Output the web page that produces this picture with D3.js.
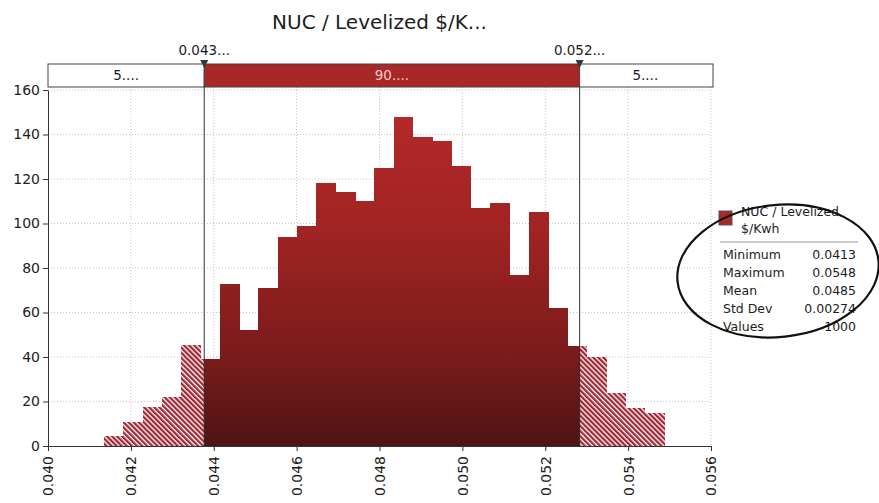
<!DOCTYPE html>
<html>
<head>
<meta charset="utf-8">
<title>NUC / Levelized $/Kwh</title>
<script src="https://d3js.org/d3.v7.min.js"></script>
<style>
  body { margin: 0; background: #fff; }
  text { font-family: "DejaVu Sans", Verdana, sans-serif; fill: #1c1c1c; }
</style>
</head>
<body>
<div id="chart"></div>
<script>
// Histogram: 29 equal bins from the minimum, heights (density)
const binStart = 0.04135;
const binWidth = 0.000466;
const binValues = [4.5, 11, 17.5, 22, 45.5, 39, 73, 52, 71, 94, 99, 118, 114, 110, 125,
                   148, 139, 137, 126, 107, 109, 77, 105, 62, 45, 40, 24, 17, 15];

// Delimiters and the band on top
const delimiters = [0.04377, 0.05283];
const delimiterLabels = ["0.043...", "0.052..."];
const bandLabels = ["5....", "90....", "5...."];

// Axes
const xTicks = [0.040, 0.042, 0.044, 0.046, 0.048, 0.050, 0.052, 0.054, 0.056];
const yTicks = [0, 20, 40, 60, 80, 100, 120, 140, 160];

// Legend / stats
const title = "NUC / Levelized $/K...";
const seriesName = ["NUC / Levelized", "$/Kwh"];
const statNames = ["Minimum", "Maximum", "Mean", "Std Dev", "Values"];
const statValues = ["0.0413", "0.0548", "0.0485", "0.00274", "1000"];

const W = 879, H = 503;
const plot = { left: 48, right: 711, top: 90, bottom: 446 };

const svg = d3.select("#chart")
    .append("svg")
    .attr("width", W)
    .attr("height", H);

const x = d3.scaleLinear()
    .domain([xTicks[0], xTicks[xTicks.length - 1]])
    .range([plot.left, plot.right]);

const y = d3.scaleLinear()
    .domain([0, 160])
    .range([plot.bottom, plot.top]);

// Fills: vertical red gradient and a hatch for the tails
const defs = svg.append("defs");
const grad = defs.append("linearGradient")
    .attr("id", "barGrad")
    .attr("gradientUnits", "userSpaceOnUse")
    .attr("x1", 0).attr("y1", y(160))
    .attr("x2", 0).attr("y2", y(0));
grad.append("stop").attr("offset", "0%").attr("stop-color", "#b82a2a");
grad.append("stop").attr("offset", "40%").attr("stop-color", "#a12323");
grad.append("stop").attr("offset", "75%").attr("stop-color", "#7a1b1b");
grad.append("stop").attr("offset", "100%").attr("stop-color", "#4d1313");

const hatch = defs.append("pattern")
    .attr("id", "hatch")
    .attr("patternUnits", "userSpaceOnUse")
    .attr("width", 3.6).attr("height", 10)
    .attr("patternTransform", "rotate(-45)");
hatch.append("rect").attr("width", 3.6).attr("height", 10).attr("fill", "#fff");
hatch.append("rect").attr("width", 2.3).attr("height", 10).attr("fill", "#a02834");

// Title
svg.append("text")
    .attr("x", (plot.left + plot.right) / 2)
    .attr("y", 29)
    .attr("text-anchor", "middle")
    .attr("font-size", 20)
    .text(title);

// Grid lines (dotted)
const grid = svg.append("g")
    .attr("stroke", "#c4c4c4")
    .attr("stroke-dasharray", "1,2");
grid.selectAll("line.h")
    .data(yTicks.slice(1))
    .enter().append("line")
    .attr("x1", plot.left).attr("x2", plot.right)
    .attr("y1", d => y(d)).attr("y2", d => y(d));
grid.selectAll("line.v")
    .data(xTicks.slice(1))
    .enter().append("line")
    .attr("x1", d => x(d)).attr("x2", d => x(d))
    .attr("y1", 87).attr("y2", plot.bottom);

// Split each bin at the delimiters so the tails get the hatch
const pieces = [];
binValues.forEach((v, i) => {
    const lo = binStart + i * binWidth, hi = lo + binWidth;
    const cuts = [lo, ...delimiters.filter(d => d > lo && d < hi), hi];
    for (let k = 0; k < cuts.length - 1; k++) {
        const mid = (cuts[k] + cuts[k + 1]) / 2;
        const tail = mid < delimiters[0] || mid > delimiters[1];
        pieces.push({ x0: cuts[k], x1: cuts[k + 1], value: v, tail: tail });
    }
});

svg.append("g")
    .attr("shape-rendering", "crispEdges")
    .selectAll("rect")
    .data(pieces)
    .enter().append("rect")
    .attr("x", d => x(d.x0))
    .attr("width", d => x(d.x1) - x(d.x0) + 0.6)
    .attr("y", d => y(d.value))
    .attr("height", d => y(0) - y(d.value))
    .attr("fill", d => d.tail ? "url(#hatch)" : "url(#barGrad)");

// Delimiter lines
svg.append("g")
    .selectAll("line")
    .data(delimiters)
    .enter().append("line")
    .attr("x1", d => x(d)).attr("x2", d => x(d))
    .attr("y1", 64).attr("y2", plot.bottom)
    .attr("stroke", "#333")
    .attr("stroke-width", 1);

// Band across the top
const bandEdges = [x.domain()[0], delimiters[0], delimiters[1], x.domain()[1]];
const band = svg.append("g");
band.selectAll("rect")
    .data(bandLabels)
    .enter().append("rect")
    .attr("x", (d, i) => x(bandEdges[i]))
    .attr("width", (d, i) => x(bandEdges[i + 1]) - x(bandEdges[i]) + (i === 2 ? 2 : 0))
    .attr("y", 64)
    .attr("height", 23)
    .attr("fill", (d, i) => i === 1 ? "#a82828" : "#fff")
    .attr("stroke", "#444")
    .attr("stroke-width", 1);
band.selectAll("text")
    .data(bandLabels)
    .enter().append("text")
    .attr("x", (d, i) => (x(bandEdges[i]) + x(bandEdges[i + 1])) / 2)
    .attr("y", 80)
    .attr("text-anchor", "middle")
    .attr("font-size", 13.5)
    .style("fill", (d, i) => i === 1 ? "#f2caca" : "#1c1c1c")
    .text(d => d);

// Delimiter markers and labels
svg.append("g")
    .selectAll("path")
    .data(delimiters)
    .enter().append("path")
    .attr("d", d => `M${x(d) - 4},60 L${x(d) + 4},60 L${x(d)},68 Z`)
    .attr("fill", "#2e3846");
svg.append("g")
    .selectAll("text")
    .data(delimiters)
    .enter().append("text")
    .attr("x", d => x(d))
    .attr("y", 55)
    .attr("text-anchor", "middle")
    .attr("font-size", 13.5)
    .text((d, i) => delimiterLabels[i]);

// Y axis
const yAxis = svg.append("g")
    .attr("transform", `translate(${plot.left},0)`)
    .call(d3.axisLeft(y).tickValues(yTicks).tickSize(5).tickSizeOuter(0).tickPadding(3));
yAxis.selectAll("text").attr("font-size", 14).style("font-family", "DejaVu Sans").style("fill", "#1c1c1c");
yAxis.selectAll("line, path").attr("stroke", "#333");

// X axis with rotated labels
const xAxis = svg.append("g")
    .attr("transform", `translate(0,${plot.bottom})`)
    .call(d3.axisBottom(x).tickValues(xTicks).tickSize(5).tickSizeOuter(0).tickFormat(d3.format(".3f")));
xAxis.selectAll("text")
    .attr("transform", "rotate(-90)")
    .attr("text-anchor", "end")
    .attr("x", -10)
    .attr("y", 0)
    .attr("dy", "0.35em")
    .attr("font-size", 14)
    .style("font-family", "DejaVu Sans")
    .style("fill", "#1c1c1c");
xAxis.selectAll("line, path").attr("stroke", "#333");

// Legend with statistics
const legend = svg.append("g");
legend.append("rect")
    .attr("x", 719).attr("y", 211)
    .attr("width", 13).attr("height", 14)
    .attr("fill", "#a52a2a")
    .attr("stroke", "#555");
legend.selectAll("text.name")
    .data(seriesName)
    .enter().append("text")
    .attr("x", 741)
    .attr("y", (d, i) => 216 + i * 17)
    .attr("font-size", 12.5)
    .text(d => d);
legend.append("line")
    .attr("x1", 720).attr("x2", 858)
    .attr("y1", 242).attr("y2", 242)
    .attr("stroke", "#999");
legend.selectAll("text.stat")
    .data(statNames)
    .enter().append("text")
    .attr("x", 723)
    .attr("y", (d, i) => 259 + i * 18)
    .attr("font-size", 12.5)
    .text(d => d);
legend.selectAll("text.val")
    .data(statValues)
    .enter().append("text")
    .attr("x", 856)
    .attr("y", (d, i) => 259 + i * 18)
    .attr("text-anchor", "end")
    .attr("font-size", 12.5)
    .text(d => d);

// Hand-drawn ellipse around the stats
svg.append("ellipse")
    .attr("cx", 778).attr("cy", 271)
    .attr("rx", 101).attr("ry", 66)
    .attr("transform", "rotate(-6,778,271)")
    .attr("fill", "none")
    .attr("stroke", "#111")
    .attr("stroke-width", 2.2);
</script>
</body>
</html>
